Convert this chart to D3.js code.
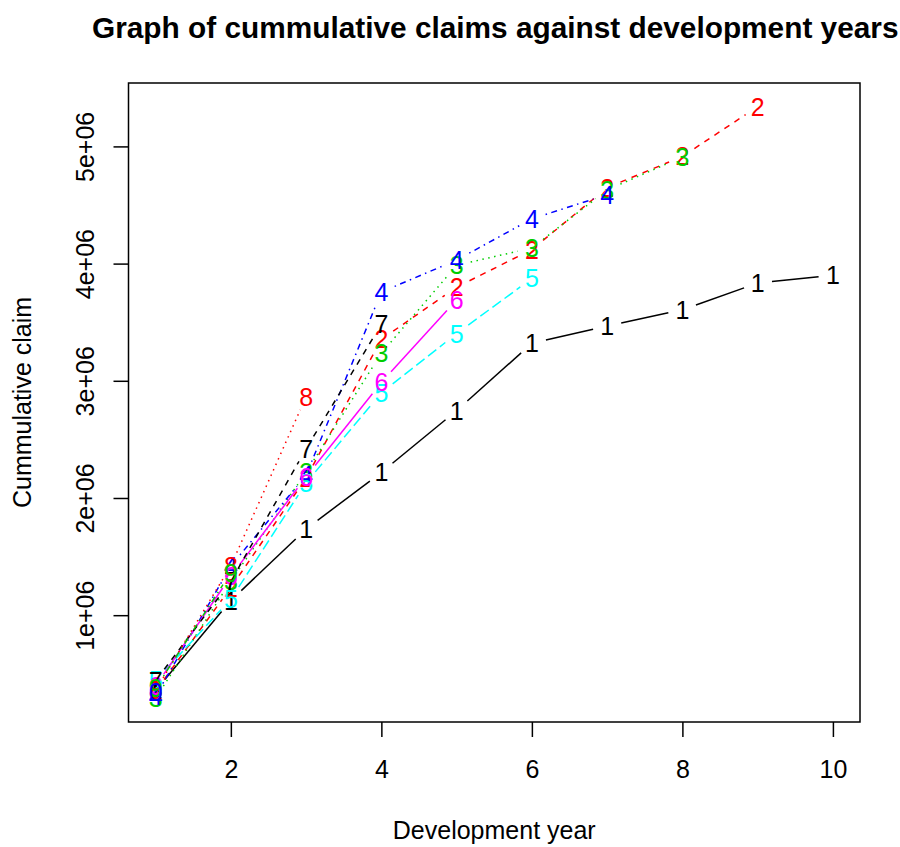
<!DOCTYPE html>
<html>
<head>
<meta charset="utf-8">
<script src="https://cdn.jsdelivr.net/npm/d3@7"></script>
<style>
html, body { margin: 0; padding: 0; background: #fff; }
svg { display: block; }
text { font-family: "Liberation Sans", Arial, Helvetica, sans-serif; }
</style>
</head>
<body>
<svg id="chart" width="900" height="847"></svg>
<script>
// Development years (x values)
const devYears = [1, 2, 3, 4, 5, 6, 7, 8, 9, 10];

// Cumulative claims per origin year (one array per series)
const origin1  = [357848, 1124788, 1735330, 2218270, 2745596, 3319994, 3466336, 3606286, 3833515, 3901463];
const origin2  = [352118, 1236139, 2170033, 3353322, 3799067, 4120063, 4647867, 4914039, 5339085];
const origin3  = [290507, 1292306, 2218525, 3235179, 3985995, 4132918, 4628910, 4909315];
const origin4  = [310608, 1418858, 2195047, 3757447, 4029929, 4381982, 4588268];
const origin5  = [443160, 1136350, 2128333, 2897821, 3402672, 3873311];
const origin6  = [396132, 1333217, 2180715, 2985752, 3691712];
const origin7  = [440832, 1288463, 2419861, 3483130];
const origin8  = [359480, 1421128, 2864498];
const origin9  = [376686, 1363294];
const origin10 = [344014];

const seriesData = [origin1, origin2, origin3, origin4, origin5, origin6, origin7, origin8, origin9, origin10];
const seriesSymbols = ["1", "2", "3", "4", "5", "6", "7", "8", "9", "0"];

// Tick labels
const xTicks = [2, 4, 6, 8, 10];
const yTicks = [1e6, 2e6, 3e6, 4e6, 5e6];
const yTickLabels = ["1e+06", "2e+06", "3e+06", "4e+06", "5e+06"];

const titleText = "Graph of cummulative claims against development years";
const xLabelText = "Development year";
const yLabelText = "Cummulative claim";

// R default palette and line types
const palette = ["#000000", "#FF0000", "#00CD00", "#0000FF", "#00FFFF", "#FF00FF"];
const dashes = [null, "6,6", "1.5,4.5", "1.5,4.5,6,4.5", "10.5,4.5"];

const svg = d3.select("#chart");
const plot = { left: 128.5, right: 860, top: 83, bottom: 722 };

// R-style 4% axis padding
const allY = seriesData.flat();
const yMin = d3.min(allY), yMax = d3.max(allY);
const yPad = 0.04 * (yMax - yMin);
const xPad = 0.04 * (d3.max(devYears) - d3.min(devYears));

const x = d3.scaleLinear()
  .domain([d3.min(devYears) - xPad, d3.max(devYears) + xPad])
  .range([plot.left, plot.right]);
const y = d3.scaleLinear()
  .domain([yMin - yPad, yMax + yPad])
  .range([plot.bottom, plot.top]);

const fontSize = 25;
const fontFam = '"Liberation Sans", Arial, sans-serif';

// Axes
const xAxis = d3.axisBottom(x).tickValues(xTicks).tickSize(15).tickPadding(23).tickFormat(d3.format("d"));
const gx = svg.append("g").attr("transform", `translate(0,${plot.bottom})`).call(xAxis);
gx.select(".domain").remove();
gx.selectAll(".tick line").attr("stroke", "#000").attr("stroke-width", 1.5);
gx.selectAll(".tick text").attr("font-size", fontSize).attr("fill", "#000")
  .attr("font-family", fontFam);

const yAxis = d3.axisLeft(y).tickValues(yTicks).tickSize(15)
  .tickFormat((d, i) => yTickLabels[i]);
const gy = svg.append("g").attr("transform", `translate(${plot.left},0)`).call(yAxis);
gy.select(".domain").remove();
gy.selectAll(".tick line").attr("stroke", "#000").attr("stroke-width", 1.5);
gy.selectAll(".tick text")
  .attr("font-size", fontSize).attr("fill", "#000")
  .attr("font-family", fontFam)
  .attr("text-anchor", "middle")
  .attr("x", 0).attr("y", 0).attr("dy", 0)
  .attr("transform", "translate(-34.5,0) rotate(-90)");

// Box
svg.append("rect")
  .attr("x", plot.left).attr("y", plot.top)
  .attr("width", plot.right - plot.left).attr("height", plot.bottom - plot.top)
  .attr("fill", "none").attr("stroke", "#000").attr("stroke-width", 1.5);

// Series: lines with gaps around points (type = "b"), then characters
const gap = 14.4;
seriesData.forEach((vals, si) => {
  const color = palette[si % palette.length];
  const dash = dashes[si % dashes.length];
  const g = svg.append("g");
  const pts = vals.map((v, i) => [x(devYears[i]), y(v)]);
  for (let i = 0; i < pts.length - 1; i++) {
    const [x0, y0] = pts[i], [x1, y1] = pts[i + 1];
    const dx = x1 - x0, dy = y1 - y0;
    const len = Math.hypot(dx, dy);
    if (len <= 2 * gap) continue;
    const ux = dx / len, uy = dy / len;
    g.append("line")
      .attr("x1", x0 + ux * gap).attr("y1", y0 + uy * gap)
      .attr("x2", x1 - ux * gap).attr("y2", y1 - uy * gap)
      .attr("stroke", color).attr("stroke-width", 1.5)
      .attr("stroke-dasharray", dash);
  }
  g.selectAll("text").data(vals).enter().append("text")
    .attr("x", (d, i) => x(devYears[i]))
    .attr("y", d => y(d))
    .attr("dy", "0.36em")
    .attr("text-anchor", "middle")
    .attr("font-size", fontSize)
    .attr("fill", color)
    .text(seriesSymbols[si]);
});

// Title
svg.append("text")
  .attr("x", (plot.left + plot.right) / 2 + 1).attr("y", 38)
  .attr("text-anchor", "middle")
  .attr("font-size", 29.8).attr("font-weight", "bold")
  .text(titleText);

// X label
svg.append("text")
  .attr("x", (plot.left + plot.right) / 2).attr("y", 839)
  .attr("text-anchor", "middle")
  .attr("font-size", fontSize)
  .text(xLabelText);

// Y label
svg.append("text")
  .attr("transform", `translate(31,${(plot.top + plot.bottom) / 2}) rotate(-90)`)
  .attr("text-anchor", "middle")
  .attr("font-size", fontSize)
  .text(yLabelText);
</script>
</body>
</html>
